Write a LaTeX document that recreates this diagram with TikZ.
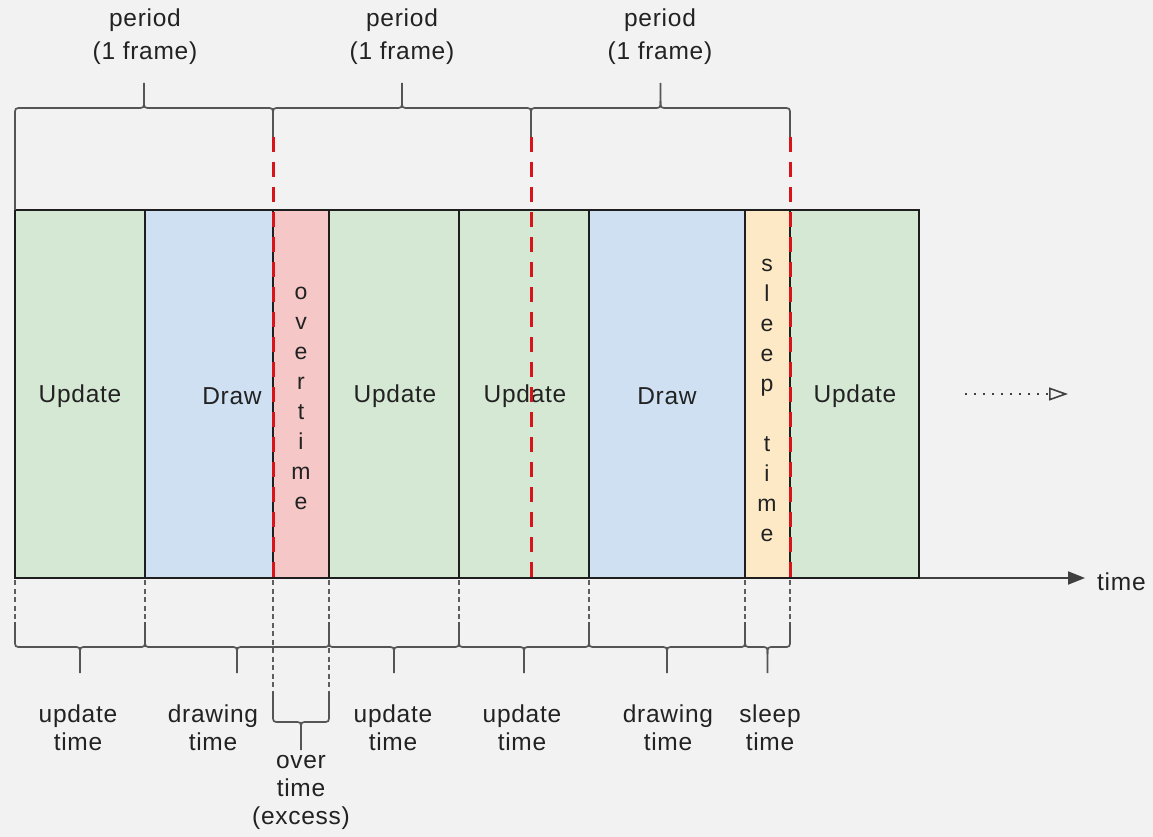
\documentclass[tikz,border=0pt]{standalone}
\usepackage{fontspec}
\setmainfont[LetterSpace=3]{Liberation Sans}
\usetikzlibrary{arrows.meta}
\definecolor{bg}{HTML}{F2F2F2}
\definecolor{boxline}{HTML}{1E1E1E}
\definecolor{gfill}{HTML}{D5E8D4}
\definecolor{bfill}{HTML}{CFE0F3}
\definecolor{pfill}{HTML}{F5C7C7}
\definecolor{yfill}{HTML}{FDE9C6}
\definecolor{txt}{HTML}{222222}
\definecolor{bracec}{HTML}{555555}
\definecolor{redc}{HTML}{D8141B}
\definecolor{gdash}{HTML}{5E5E5E}
\newcommand\cbrace[6]{%
  \pgfmathsetmacro\xm{(#1+#2)/2}%
  \draw[bracestyle] (#1,#3) -- (#1,{#4+#6*7}) .. controls (#1,#4) .. ({#1+7},#4) -- ({\xm-7},#4) .. controls (\xm,#4) .. (\xm,{#4-#6*7}) -- (\xm,#5);
  \draw[bracestyle] (#2,#3) -- (#2,{#4+#6*7}) .. controls (#2,#4) .. ({#2-7},#4) -- ({\xm+7},#4) .. controls (\xm,#4) .. (\xm,{#4-#6*7});
}
\begin{document}
\begin{tikzpicture}[x=1pt,y=-1pt,
  box/.style={draw=boxline, line width=1.5pt, anchor=north west, minimum height=368pt, inner sep=0pt, outer sep=0pt},
  lbl/.style={text=txt, font=\fontsize{24.5}{28}\selectfont, align=center, inner sep=0pt},
  toplbl/.style={text=txt, font=\fontsize{24.5}{33}\selectfont, align=center, inner sep=0pt},
  vlbl/.style={text=txt, font=\fontsize{23}{30}\selectfont\addfontfeature{LetterSpace=0}, align=center, inner sep=0pt},
  bracestyle/.style={draw=bracec, line width=1.7pt},
  reddash/.style={draw=redc, line width=3pt, dash pattern=on 15pt off 10pt},
  graydash/.style={draw=gdash, line width=2.2pt, dash pattern=on 5pt off 3.5pt},
  axis/.style={draw=black!75, line width=2pt},
]
\fill[bg] (0,0) rectangle (1153,837);
\useasboundingbox (0,0) rectangle (1153,837);

% axis
\coordinate (axend) at (1085,578);
\draw[axis, -{Triangle[length=17pt,width=13pt]}] (15,578) -- (axend);
\node[lbl, anchor=west] (timelbl) at (1097,582) {time};

% boxes
\node[box, fill=gfill, minimum width=130pt] (u1) at (15,210) {};
\node[box, fill=bfill, minimum width=128pt] (d1) at (145,210) {};
\node[box, fill=pfill, minimum width=56pt] (ot) at (273,210) {};
\node[box, fill=gfill, minimum width=130pt] (u2) at (329,210) {};
\node[box, fill=gfill, minimum width=130pt] (u3) at (459,210) {};
\node[box, fill=bfill, minimum width=156pt] (d2) at (589,210) {};
\node[box, fill=yfill, minimum width=45pt] (sl) at (745,210) {};
\node[box, fill=gfill, minimum width=129pt] (u4) at (790,210) {};

% box labels
\node[lbl] (tu1) at (80,396) {Update};
\node[lbl] (td1) at (232,396) {Draw};
\node[lbl] (tu2) at (395,396) {Update};
\node[lbl] (tu3) at (525,396) {Update};
\node[lbl] (td2) at (667,396) {Draw};
\node[lbl] (tu4) at (855,396) {Update};
\node[vlbl] (tot) at (301,398) {o\\v\\e\\r\\t\\i\\m\\e};
\node[vlbl] (tsl) at (767,400) {s\\l\\e\\e\\p\\\strut\\t\\i\\m\\e};

% dotted continuation arrow
\coordinate (ds) at (965,394);
\coordinate (de) at (1068,394);
\draw[draw=black!75, line width=1.6pt, dash pattern=on 1.6pt off 7.4pt, -{Triangle[open, length=19pt, width=13pt, line width=1.6pt]}] (ds) -- (de);

% top braces
\cbrace{15}{273}{137}{108}{83}{1}
\cbrace{273}{531}{137}{108}{83}{1}
\cbrace{531}{790}{137}{108}{83}{1}
\draw[bracestyle] (15,136) -- (u1.north west);
\node[toplbl] (p1) at (145,37) {period\\(1 frame)};
\node[toplbl] (p2) at (402,37) {period\\(1 frame)};
\node[toplbl] (p3) at (660,37) {period\\(1 frame)};

% red dashed period boundaries
\coordinate (r1) at (273,137);
\coordinate (r2) at (531,137);
\coordinate (r3) at (790,137);
\draw[reddash] (r1) -- (ot.south west);
\draw[reddash] (r2) -- (531,578);
\draw[reddash] (r3) -- (u4.south west);

% bottom dashed guides
\foreach \x/\y in {15/622,145/622,459/622,589/622,745/622,790/622,273/692,329/692}{
  \draw[graydash] (\x,580) -- (\x,\y);
}

% bottom braces
\cbrace{15}{145}{622}{647}{673}{-1}
\cbrace{145}{329}{622}{647}{673}{-1}
\cbrace{329}{459}{622}{647}{673}{-1}
\cbrace{459}{589}{622}{647}{673}{-1}
\cbrace{589}{745}{622}{647}{673}{-1}
\cbrace{745}{790}{622}{647}{673}{-1}
\cbrace{273}{329}{692}{722}{750}{-1}

% bottom labels
\node[lbl] (b1) at (78,728) {update\\time};
\node[lbl] (b2) at (213,728) {drawing\\time};
\node[lbl] (b3) at (393,728) {update\\time};
\node[lbl] (b4) at (522,728) {update\\time};
\node[lbl] (b5) at (668,728) {drawing\\time};
\node[lbl] (b6) at (770,728) {sleep\\time};
\node[lbl] (b7) at (301,792) {over\\time\\(excess)};
\end{tikzpicture}
\end{document}
